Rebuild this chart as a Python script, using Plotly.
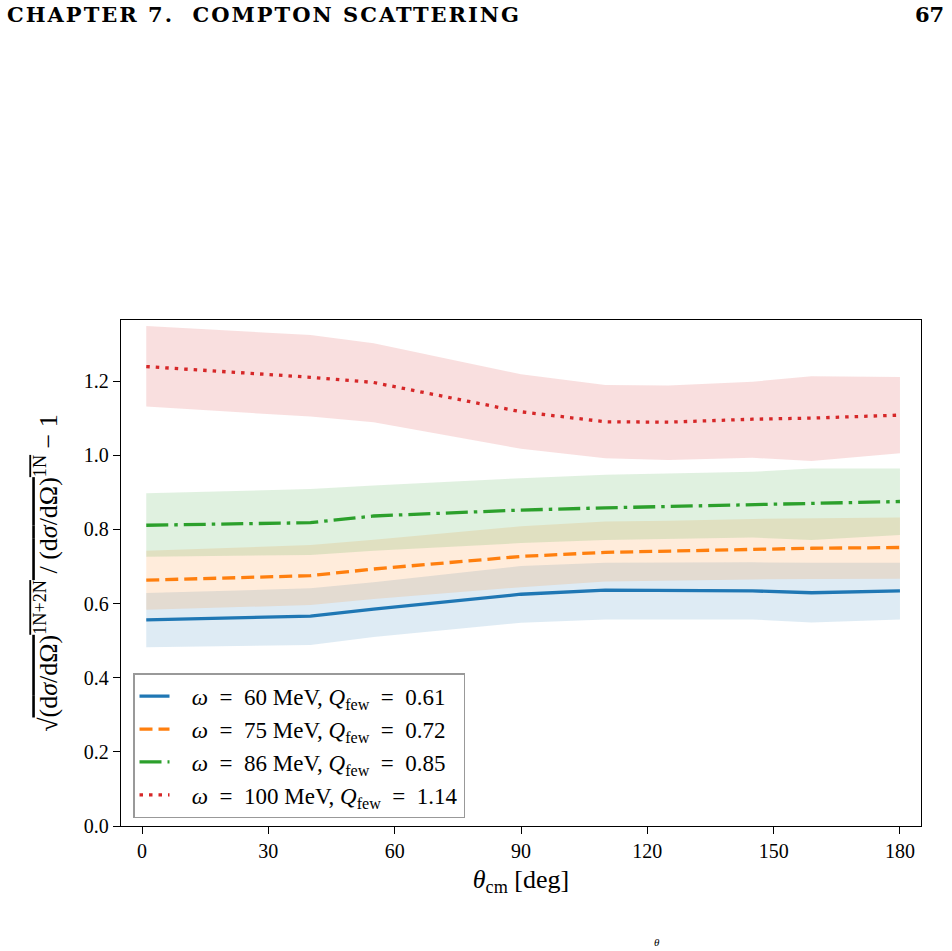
import plotly.graph_objects as go

# ---- data ----
theta = [1, 40, 55, 90, 110, 125, 145, 159, 180]

labels = [
    "<i>ω</i> = 60 MeV, <i>Q</i><sub>few</sub> = 0.61",
    "<i>ω</i> = 75 MeV, <i>Q</i><sub>few</sub> = 0.72",
    "<i>ω</i> = 86 MeV, <i>Q</i><sub>few</sub> = 0.85",
    "<i>ω</i> = 100 MeV, <i>Q</i><sub>few</sub> = 1.14",
]

mid_60 = [0.556, 0.566, 0.585, 0.625, 0.636, 0.636, 0.634, 0.629, 0.634]
lo_60 = [0.482, 0.488, 0.510, 0.548, 0.557, 0.557, 0.557, 0.549, 0.557]
hi_60 = [0.628, 0.641, 0.657, 0.701, 0.710, 0.711, 0.711, 0.710, 0.710]

mid_75 = [0.663, 0.675, 0.693, 0.727, 0.738, 0.742, 0.746, 0.749, 0.751]
lo_75 = [0.583, 0.596, 0.612, 0.644, 0.659, 0.662, 0.665, 0.666, 0.667]
hi_75 = [0.742, 0.758, 0.772, 0.808, 0.821, 0.823, 0.828, 0.830, 0.832]

mid_86 = [0.811, 0.818, 0.836, 0.852, 0.858, 0.862, 0.867, 0.869, 0.875]
lo_86 = [0.726, 0.731, 0.742, 0.763, 0.771, 0.774, 0.778, 0.771, 0.785]
hi_86 = [0.897, 0.909, 0.918, 0.938, 0.947, 0.950, 0.955, 0.964, 0.964]

mid_100 = [1.239, 1.210, 1.196, 1.117, 1.090, 1.089, 1.097, 1.100, 1.108]
lo_100 = [1.131, 1.104, 1.089, 1.017, 0.992, 0.987, 0.993, 0.984, 1.005]
hi_100 = [1.348, 1.324, 1.302, 1.218, 1.189, 1.188, 1.198, 1.213, 1.211]

x_ticks = [0, 30, 60, 90, 120, 150, 180]
y_ticks = [0.0, 0.2, 0.4, 0.6, 0.8, 1.0, 1.2]
y_tick_text = ["0.0", "0.2", "0.4", "0.6", "0.8", "1.0", "1.2"]

# ---- styling ----
colors = ["#1f77b4", "#ff7f0e", "#2ca02c", "#d62728"]
fills = ["rgba(31,119,180,0.15)", "rgba(255,127,14,0.15)",
         "rgba(44,160,44,0.15)", "rgba(214,39,40,0.15)"]
dashes = ["solid", "13px,6px", "22px,6px,3.5px,6px", "3.5px,6px"]

mids = [mid_60, mid_75, mid_86, mid_100]
los = [lo_60, lo_75, lo_86, lo_100]
his = [hi_60, hi_75, hi_86, hi_100]

FONT = "Liberation Serif"

fig = go.Figure()

# bands first
for i in range(4):
    fig.add_trace(go.Scatter(x=theta, y=los[i], mode="lines",
                             line=dict(width=0, color=fills[i]),
                             showlegend=False, hoverinfo="skip"))
    fig.add_trace(go.Scatter(x=theta, y=his[i], mode="lines",
                             line=dict(width=0, color=fills[i]),
                             fill="tonexty", fillcolor=fills[i],
                             showlegend=False, hoverinfo="skip"))

# central lines
for i in range(4):
    fig.add_trace(go.Scatter(x=theta, y=mids[i], mode="lines",
                             name="&nbsp;&nbsp;&nbsp;" + labels[i].replace(" = ", " &nbsp;= &nbsp;"),
                             line=dict(color=colors[i], width=3.3, dash=dashes[i])))

ytitle = ("√<span style='text-decoration:overline'>(d<i>σ</i>/dΩ)<sup>1N+2N</sup>"
          " / (d<i>σ</i>/dΩ)<sup>1N</sup></span> − 1")

fig.update_layout(
    width=952, height=951,
    margin=dict(l=121, r=31, t=320, b=125),
    paper_bgcolor="white", plot_bgcolor="white",
    font=dict(family=FONT, size=19, color="black"),
    showlegend=True,
    legend=dict(x=0.015, y=0.302, xanchor="left", yanchor="top",
                traceorder="normal",
                bgcolor="rgba(255,255,255,0.85)", bordercolor="#999999",
                borderwidth=1.5, font=dict(family=FONT, size=23),
                tracegroupgap=0),
    xaxis=dict(range=[-5, 185], tickmode="array", tickvals=x_ticks,
               showgrid=False, zeroline=False, showline=True, linecolor="black",
               linewidth=1.3, mirror=True, ticks="outside", ticklen=7,
               tickwidth=1.3, tickcolor="black",
               tickfont=dict(family=FONT, size=20),
               title=dict(text="<i>θ</i><sub>cm</sub> [deg]",
                          font=dict(family=FONT, size=26), standoff=8)),
    yaxis=dict(range=[0, 1.3645], tickmode="array", tickvals=y_ticks,
               ticktext=y_tick_text,
               showgrid=False, zeroline=False, showline=True, linecolor="black",
               linewidth=1.3, mirror=True, ticks="outside", ticklen=7,
               tickwidth=1.3, tickcolor="black",
               tickfont=dict(family=FONT, size=20),
               title=dict(text=ytitle, font=dict(family=FONT, size=26), standoff=18)),
)

# page header and footer fragment
fig.add_annotation(text="<span style='letter-spacing:2px'><b>CHAPTER 7.  COMPTON SCATTERING</b></span>",
                   xref="paper", yref="paper",
                   x=(5 - 121) / 800, y=(826 - 15) / 506, xanchor="left", yanchor="middle",
                   showarrow=False, font=dict(family="DejaVu Serif", size=21, color="black"))
fig.add_annotation(text="<b>67</b>", xref="paper", yref="paper",
                   x=(946 - 121) / 800, y=(826 - 15) / 506, xanchor="right", yanchor="middle",
                   showarrow=False, font=dict(family="DejaVu Serif", size=21, color="black"))
fig.add_annotation(text="<i>θ</i>", xref="paper", yref="paper",
                   x=(657 - 121) / 800, y=(826 - 942) / 506, xanchor="center", yanchor="middle",
                   showarrow=False, font=dict(family=FONT, size=11, color="black"))

fig.write_html("out.html")
